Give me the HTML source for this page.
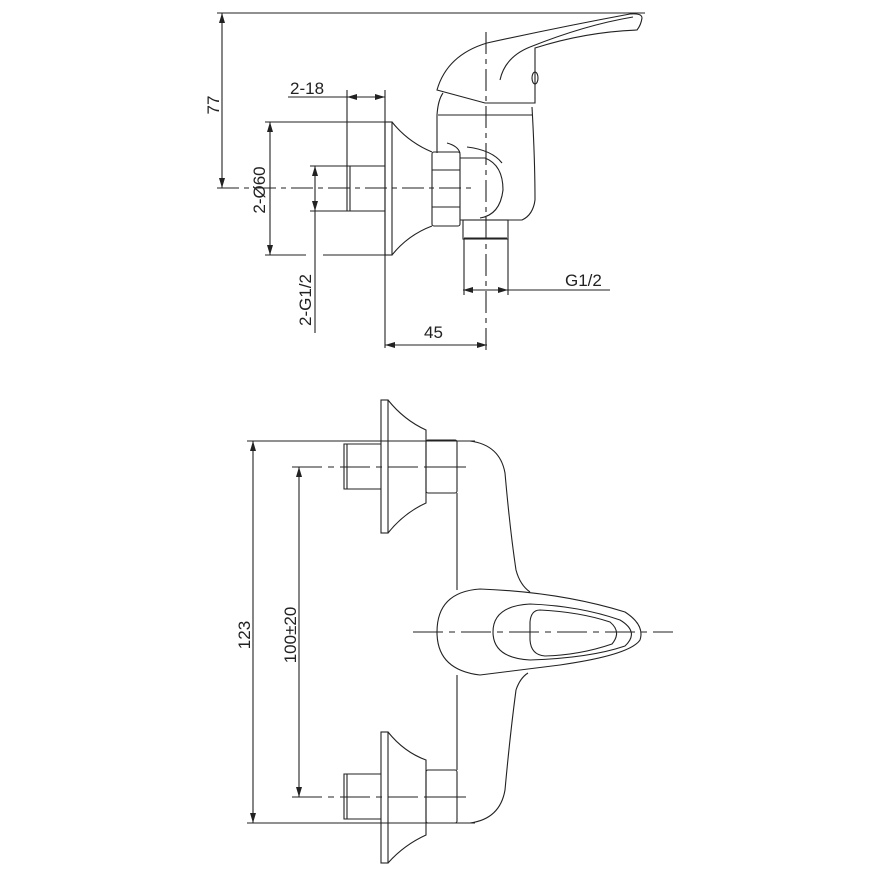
<!DOCTYPE html>
<html><head><meta charset="utf-8"><style>
html,body{margin:0;padding:0;background:#fff}
svg{display:block}
text{font-family:"Liberation Sans",sans-serif;font-size:17px;fill:#222}
</style></head><body>
<svg width="870" height="870" viewBox="0 0 870 870" xmlns="http://www.w3.org/2000/svg">
<defs>
<marker id="a" viewBox="0 0 10 6" refX="10" refY="3" markerWidth="10" markerHeight="6" orient="auto-start-reverse" markerUnits="userSpaceOnUse"><path d="M0,0L10,3L0,6z" fill="#222"/></marker>
</defs>
<g fill="none" stroke="#222" stroke-width="1.1">
<!-- TOP VIEW -->
<line x1="217" y1="13" x2="645" y2="13"/>
<line x1="222" y1="13" x2="222" y2="188" marker-start="url(#a)" marker-end="url(#a)"/>
<line x1="217" y1="188" x2="475" y2="188" stroke-dasharray="22,5,5,5"/>
<line x1="288" y1="97" x2="385" y2="97"/>
<line x1="347" y1="97" x2="385" y2="97" marker-start="url(#a)" marker-end="url(#a)"/>
<line x1="347" y1="90" x2="347" y2="166"/>
<line x1="385" y1="90" x2="385" y2="348"/>
<line x1="265" y1="122" x2="385" y2="122"/>
<line x1="265" y1="255" x2="306" y2="255"/>
<line x1="323" y1="255" x2="385" y2="255"/>
<line x1="270" y1="122" x2="270" y2="255" marker-start="url(#a)" marker-end="url(#a)"/>
<line x1="310" y1="166" x2="385" y2="166"/>
<line x1="310" y1="211" x2="385" y2="211"/>
<line x1="315" y1="166" x2="315" y2="211" marker-start="url(#a)" marker-end="url(#a)"/>
<line x1="315" y1="211" x2="315" y2="333"/>
<rect x="385" y="122" width="7" height="133"/>
<path d="M392,122 Q408,142 432,152 M392,255 Q408,235 432,226"/>
<path d="M385,166 H347 V211 H385 M350,166 V211"/>
<rect x="432" y="152" width="28" height="74" rx="2"/>
<path d="M432,170 H460 M432,207 H460"/>
<path d="M437,153 V115 Q438,100 443,93"/>
<path d="M438,115 H532"/>
<path d="M532,107 Q535,160 535,200 Q533,215 522,220 H460"/>
<path d="M447,143 Q458,146 460,153"/>
<path d="M467,147 Q492,150 502,163"/>
<path d="M460,158 H485 Q503,165 503,190 Q500,215 480,218"/>
<rect x="463" y="220" width="45" height="19"/>
<path d="M464,238 H507"/>
<line x1="464" y1="239" x2="464" y2="295"/>
<line x1="508" y1="239" x2="508" y2="295"/>
<line x1="463" y1="290" x2="610" y2="290"/>
<line x1="463" y1="290" x2="508" y2="290" marker-start="url(#a)" marker-end="url(#a)"/>
<line x1="385" y1="345" x2="487" y2="345" marker-start="url(#a)" marker-end="url(#a)"/>
<line x1="486" y1="32" x2="486" y2="350" stroke-dasharray="22,5,5,5"/>
<path d="M437,90 Q447,55 487,43 Q560,27 630,14 Q642,13 642,18 Q641,25 637,30 Q585,32 535,48 V103 L485,103 Z"/>
<path d="M530,47 Q585,25 633,17"/>
<path d="M500,80 Q505,57 530,47"/>
<ellipse cx="535" cy="78" rx="3" ry="6"/>

<!-- BOTTOM VIEW -->
<line x1="247" y1="441" x2="475" y2="441"/>
<line x1="247" y1="823" x2="475" y2="823"/>
<line x1="253" y1="441" x2="253" y2="823" marker-start="url(#a)" marker-end="url(#a)"/>
<line x1="292" y1="467" x2="468" y2="467" stroke-dasharray="30,6,6,6"/>
<line x1="292" y1="797" x2="468" y2="797" stroke-dasharray="30,6,6,6"/>
<line x1="299" y1="467" x2="299" y2="797" marker-start="url(#a)" marker-end="url(#a)"/>
<rect x="381" y="400" width="7" height="133"/>
<path d="M388,400 Q404,420 426,430 V503 Q404,513 388,533"/>
<path d="M381,444 H344 V489 H381 M347,444 V489"/>
<rect x="426" y="440" width="31" height="53" rx="2"/>
<path d="M426,467 H457"/>
<rect x="381" y="732" width="7" height="131"/>
<path d="M388,732 Q404,752 426,760 V835 Q404,845 388,863"/>
<path d="M381,774 H344 V819 H381 M347,774 V819"/>
<rect x="426" y="770" width="31" height="53" rx="2"/>
<path d="M426,797 H457"/>
<path d="M457,493 V590 M457,675 V770"/>
<path d="M470,441 Q500,445 505,473 Q510,530 516,570 Q520,585 530,592"/>
<path d="M470,823 Q500,819 505,790 Q510,735 516,690 Q520,678 528,673"/>
<path d="M480,589 Q560,592 625,612 Q645,625 640,640 Q630,655 560,665 L480,675 Q437,670 437,632 Q437,592 480,589 Z"/>
<path d="M530,604 Q580,606 620,620 Q640,632 625,646 Q590,658 530,660 Q493,658 493,632 Q493,606 530,604 Z"/>
<path d="M540,610 Q580,612 610,622 Q622,632 612,644 Q580,655 545,656 Q531,655 530,640 V622 Q531,610 540,610 Z"/>
<line x1="413" y1="632" x2="673" y2="632" stroke-dasharray="30,6,6,6"/>
</g>
<text x="290" y="94">2-18</text>
<text x="565" y="286">G1/2</text>
<text x="424" y="338">45</text>
<text transform="translate(219,105) rotate(-90)" text-anchor="middle">77</text>
<text transform="translate(265,190) rotate(-90)" text-anchor="middle">2-Ø60</text>
<text transform="translate(311,300) rotate(-90)" text-anchor="middle">2-G1/2</text>
<text transform="translate(250,635) rotate(-90)" text-anchor="middle">123</text>
<text transform="translate(296,635) rotate(-90)" text-anchor="middle">100±20</text>
</svg>
</body></html>
